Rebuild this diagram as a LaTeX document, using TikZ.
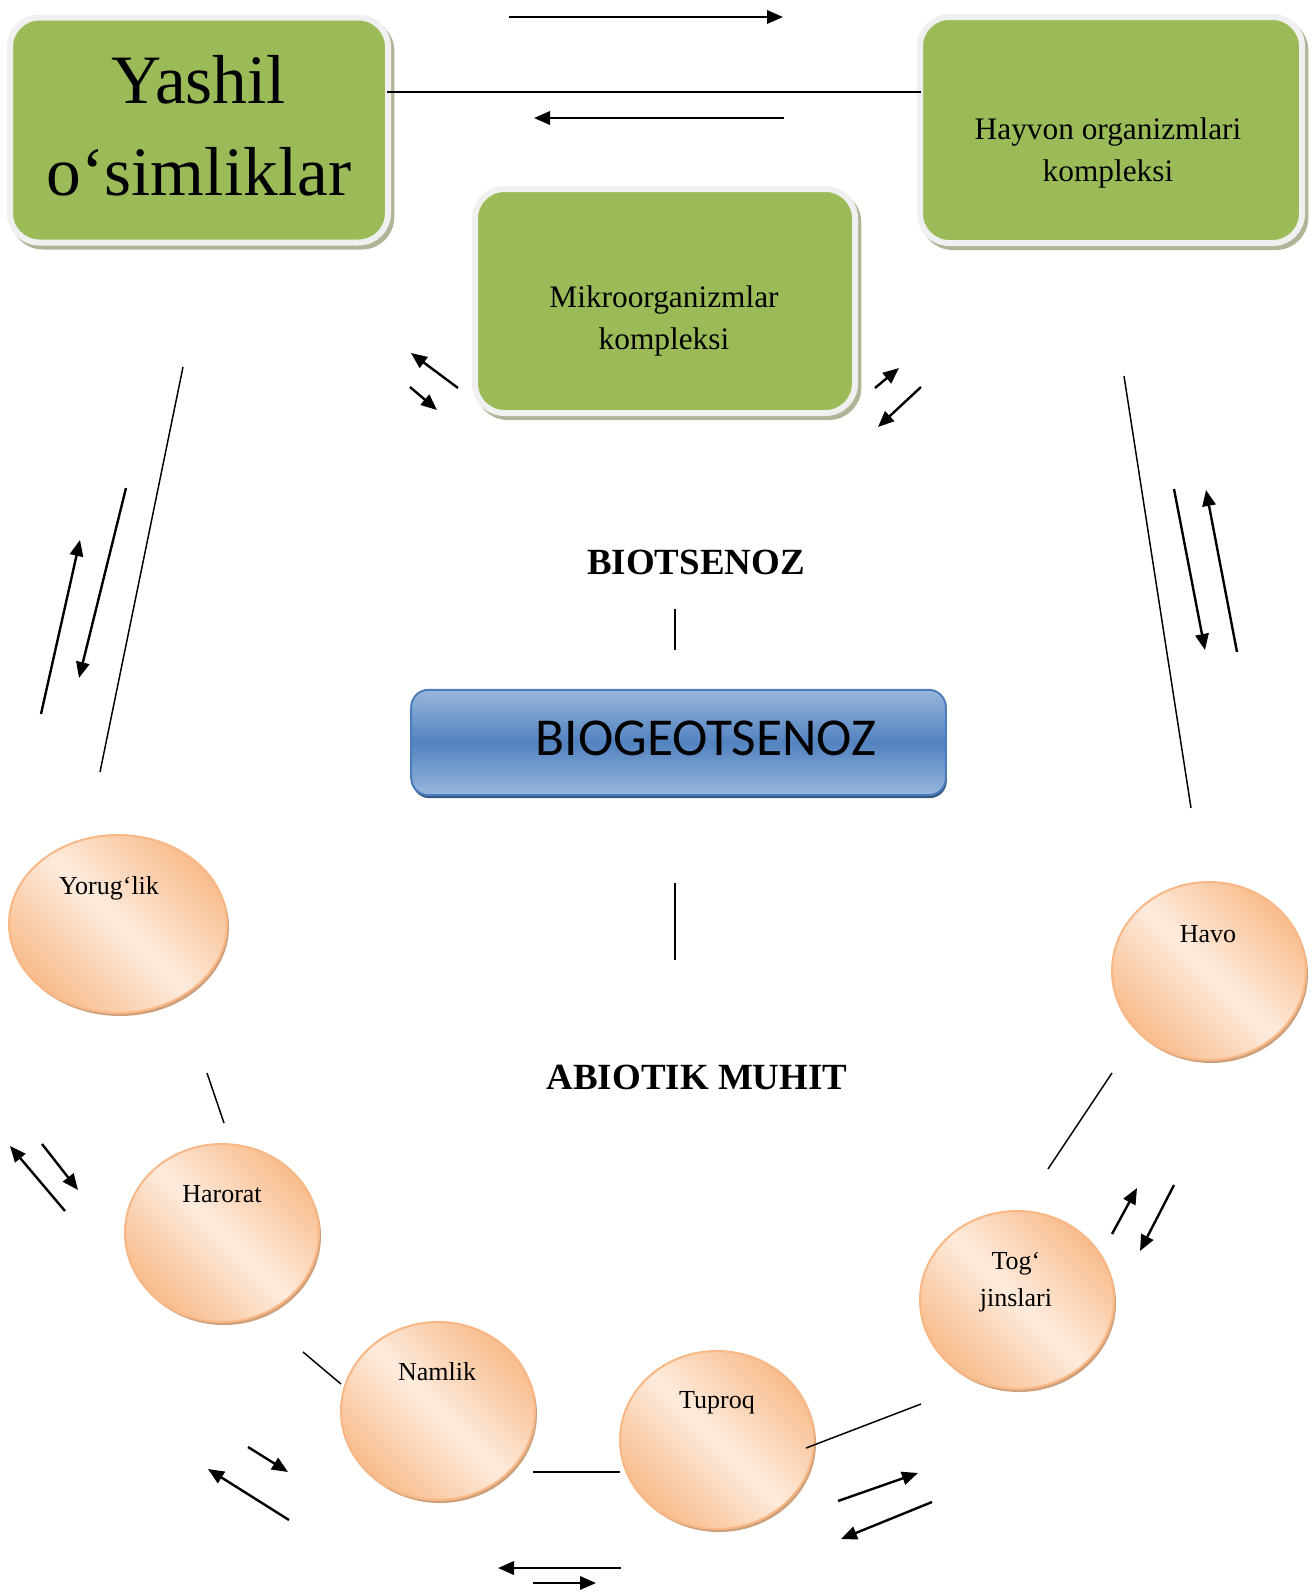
\documentclass[tikz,border=0pt]{standalone}
\usepackage{fontspec}
\setmainfont{Liberation Serif}
\newfontfamily\calibrifont{Carlito}
\usetikzlibrary{arrows.meta,shapes.geometric,shadows}
\definecolor{grn}{HTML}{9BBB59}
\definecolor{boxedge}{HTML}{F0F0F0}
\definecolor{grnshadow}{HTML}{AEB698}
\definecolor{elldark}{HTML}{F8BC8C}
\definecolor{elllight}{HTML}{FDEBDD}
\definecolor{ellborder}{HTML}{F8B784}
\definecolor{ellshadow}{HTML}{CDA07C}
\definecolor{bluetop}{HTML}{98B6DC}
\definecolor{bluemid}{HTML}{5283C0}
\definecolor{blueedge}{HTML}{4A7DB9}
\definecolor{blueshadow}{HTML}{34567F}
\newcommand\myarrow[3]{\coordinate (#1s) at (#2); \coordinate (#1e) at (#3); \draw[arr] (#1s) -- (#1e);}
\newcommand\myline[3]{\coordinate (#1s) at (#2); \coordinate (#1e) at (#3); \draw[ln] (#1s) -- (#1e);}
\begin{document}
\begin{tikzpicture}[x=0.75pt,y=-0.75pt,
  gbox/.style={rectangle, rounded corners=22pt, fill=grn, draw=boxedge, line width=4.5pt,
    inner sep=0pt, minimum width=285pt, minimum height=169pt,
    drop shadow={shadow xshift=2.5pt, shadow yshift=-3pt, fill=grnshadow, draw=grnshadow, line width=4.5pt, opacity=1}},
  ell/.style={ellipse, draw=ellborder, line width=1.5pt, top color=elldark, bottom color=elldark,
    middle color=elllight, shading angle=-45, inner sep=0pt,
    minimum width=145.5pt, minimum height=133.5pt,
    drop shadow={shadow xshift=1.5pt, shadow yshift=-2.25pt, fill=ellshadow, opacity=1}},
  btxt/.style={font=\fontsize{23.5}{31.5}\selectfont, align=center, inner sep=0pt},
  etxt/.style={font=\fontsize{19.5}{27.75}\selectfont, align=center, inner sep=0pt},
  ttl/.style={font=\fontsize{27.7}{33}\selectfont\bfseries, inner sep=0pt},
  arr/.style={line width=1.8pt, -{Triangle[length=12pt,width=10pt]}},
  ln/.style={line width=1.1pt}]
\useasboundingbox (0,0) rectangle (1312,1592);

% green boxes
\node[gbox, minimum width=283.5pt, minimum height=168.75pt] (yashil) at (199,130) {};
\node[font=\fontsize{52}{69}\selectfont, align=center, inner sep=0pt] (yashilt) at (199,126) {Yashil\\o‘simliklar};
\node[gbox, minimum width=286.5pt, minimum height=169.5pt] (hayvon) at (1111,130) {};
\node[btxt] (hayvont) at (1108,153) {Hayvon organizmlari\\kompleksi};
\node[gbox, minimum width=285pt, minimum height=168pt] (mikro) at (665,301) {};
\node[btxt] (mikrot) at (664,321) {Mikroorganizmlar\\kompleksi};

% blue box
\node[rectangle, rounded corners=13pt, draw=blueedge, line width=1.5pt,
  top color=bluetop, bottom color=bluetop, middle color=bluemid,
  minimum width=401pt, minimum height=79pt, inner sep=0pt,
  drop shadow={shadow xshift=0.75pt, shadow yshift=-2.25pt, fill=blueshadow, opacity=1}] (bio) at (678.5,742.5) {};
\node[font=\calibrifont\fontsize{40}{48}\selectfont, inner sep=0pt] (biot) at (706,738) {BIOGEOTSENOZ};

\node[ttl] (biots) at (696,562) {BIOTSENOZ};
\node[ttl] (abio) at (697,1077) {ABIOTIK MUHIT};

% ellipses
\node[ell, minimum width=163.5pt, minimum height=133.5pt] (yor) at (118,924) {};
\node[etxt] (yort) at (109,888) {Yorug‘lik};
\node[ell] (har) at (222,1233) {};
\node[etxt] (hart) at (222,1194) {Harorat};
\node[ell] (nam) at (438,1411) {};
\node[etxt] (namt) at (437,1372) {Namlik};
\node[ell] (tup) at (717,1440) {};
\node[etxt] (tupt) at (717,1403) {Tuproq};
\node[ell] (tog) at (1017,1300) {};
\node[etxt] (togt) at (1016,1282) {Tog‘\\jinslari};
\node[ell] (havo) at (1209,971) {};
\node[etxt] (havot) at (1208,934) {Havo};

% top
\myarrow{a1}{509,17}{783,17}
\myarrow{a2}{784,118}{534,118}
\myline{l0}{387,92}{921,92}
% around mikro
\myarrow{a3}{458,388}{411,353}
\myarrow{a4}{410,387}{437,410}
\myarrow{a5}{875,388}{899,368}
\myarrow{a6}{921,387}{878,427}
% left side
\myline{l1}{183,367}{100,772}
\myarrow{a7}{41,714}{80,540}
\myarrow{a8}{126,488}{79,678}
% right side
\myline{l2}{1124,376}{1191,808}
\myarrow{a9}{1174,489}{1205,650}
\myarrow{a10}{1237,652}{1206,490}
% centre
\myline{l3}{675,609}{675,650}
\myline{l4}{675,883}{675,960}
% lower
\myline{l5}{207,1073}{224,1123}
\myarrow{a11}{65,1211}{10,1146}
\myarrow{a12}{42,1144}{78,1190}
\myline{l6}{303,1352}{341,1384}
\myarrow{a13}{248,1447}{288,1472}
\myarrow{a14}{289,1520}{208,1469}
\myline{l7}{533,1472}{620,1472}
\myarrow{a15}{621,1568}{498,1568}
\myarrow{a16}{533,1583}{596,1583}
\myline{l8}{806,1448}{921,1404}
\myarrow{a17}{838,1501}{918,1473}
\myarrow{a18}{932,1502}{841,1539}
\myline{l9}{1048,1169}{1112,1073}
\myarrow{a19}{1112,1234}{1137,1188}
\myarrow{a20}{1174,1185}{1140,1251}
\end{tikzpicture}
\end{document}
